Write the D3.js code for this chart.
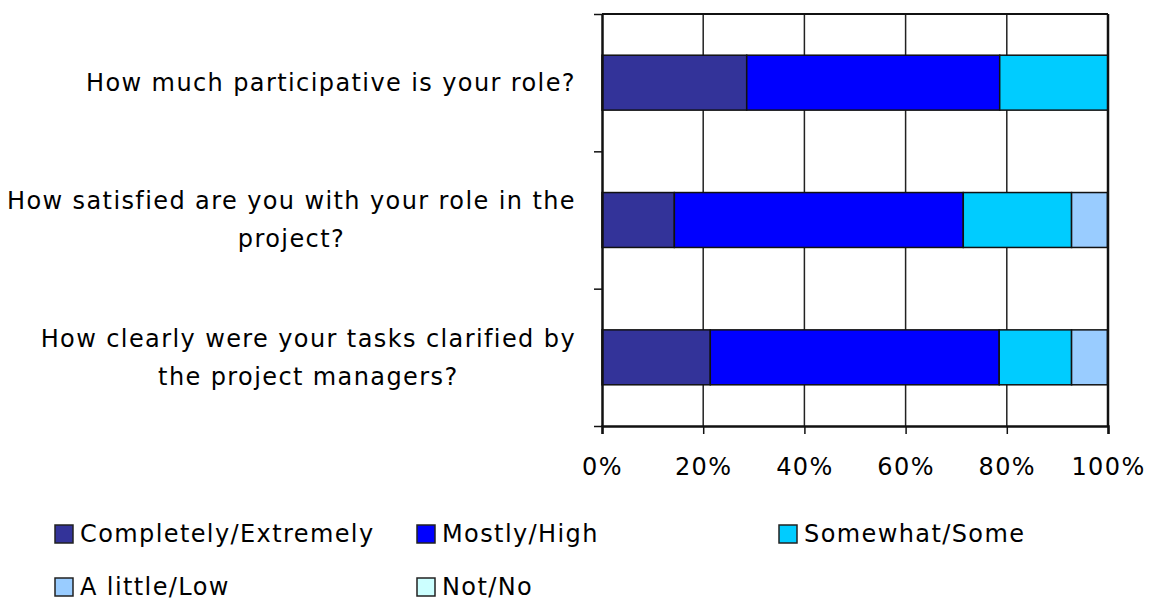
<!DOCTYPE html>
<html>
<head>
<meta charset="utf-8">
<script src="https://cdn.jsdelivr.net/npm/d3@7"></script>
<style>
  body { margin: 0; background: #fff; }
  svg text { font-family: "DejaVu Sans", Verdana, sans-serif; fill: #000; letter-spacing: 1.4px; }
</style>
</head>
<body>
<div id="chart"></div>
<script>
const width = 1150;
const height = 600;

// questions, top to bottom
const questions = [
    ["How much participative is your role?"],
    ["How satisfied are you with your role in the", "project?"],
    ["How clearly were your tasks clarified by", "the project managers?"]
];
const series = ["Completely/Extremely", "Mostly/High", "Somewhat/Some", "A little/Low", "Not/No"];
const colors = ["#333399", "#0000ff", "#00ccff", "#99ccff", "#ccffff"];

// percent of answers per question (same order as series)
const completely = [28.6, 14.3, 21.4];
const mostly     = [50.0, 57.1, 57.1];
const somewhat   = [21.4, 21.4, 14.3];
const aLittle    = [0.0, 7.1, 7.1];
const notNo      = [0.0, 0.0, 0.0];

const xTicks = [0, 20, 40, 60, 80, 100];

const margin = { top: 14, left: 602, right: 42, bottom: 174 };
const plotW = width - margin.left - margin.right;
const plotH = height - margin.top - margin.bottom;
const fontSize = "24px";

const svg = d3.select("#chart").append("svg").attr("width", width).attr("height", height);
const g = svg.append("g").attr("transform", `translate(${margin.left},${margin.top})`);

const rows = questions.map((q, i) => ({
    key: i,
    lines: q,
    values: [completely[i], mostly[i], somewhat[i], aLittle[i], notNo[i]]
}));

const x = d3.scaleLinear().domain([0, 100]).range([0, plotW]);
const y = d3.scaleBand().domain(rows.map(r => r.key)).range([0, plotH]).paddingInner(0.6).paddingOuter(0.3);
const yEdges = d3.scaleLinear().domain([0, rows.length]).range([0, plotH]);

// vertical gridlines
g.selectAll("line.grid")
    .data(xTicks.slice(1, -1))
    .enter().append("line")
    .attr("class", "grid")
    .attr("x1", d => x(d)).attr("x2", d => x(d))
    .attr("y1", 0).attr("y2", plotH)
    .attr("stroke", "#222").attr("stroke-width", 1.5);

// stacked bars
const stack = d3.stack().keys(d3.range(series.length)).value((r, k) => r.values[k]);
const layers = stack(rows);

g.selectAll("g.layer")
    .data(layers)
    .enter().append("g")
    .attr("class", "layer")
    .attr("fill", (d, i) => colors[i])
    .selectAll("rect")
    .data(d => d.filter(s => s[1] - s[0] > 0))
    .enter().append("rect")
    .attr("x", d => x(d[0]))
    .attr("width", d => x(d[1]) - x(d[0]))
    .attr("y", d => y(d.data.key))
    .attr("height", y.bandwidth())
    .attr("stroke", "#111").attr("stroke-width", 1.5);

// frame: top and right
g.append("line").attr("x1", 0).attr("x2", plotW).attr("y1", 0).attr("y2", 0)
    .attr("stroke", "#111").attr("stroke-width", 2);
g.append("line").attr("x1", plotW).attr("x2", plotW).attr("y1", 0).attr("y2", plotH)
    .attr("stroke", "#111").attr("stroke-width", 2.5);

// bottom axis
const xAxis = g.append("g")
    .attr("transform", `translate(0,${plotH})`)
    .call(d3.axisBottom(x).tickValues(xTicks).tickFormat(d => d + "%").tickSize(8).tickPadding(24));
xAxis.select(".domain").attr("stroke", "#111").attr("stroke-width", 2.5);
xAxis.selectAll(".tick line").attr("stroke", "#111").attr("stroke-width", 1.5);
xAxis.selectAll(".tick text").style("font-size", fontSize).attr("fill", "#000");

// left axis with ticks at band edges
const yAxis = g.append("g")
    .call(d3.axisLeft(yEdges).tickValues(d3.range(rows.length + 1)).tickFormat("").tickSize(8).tickSizeOuter(0));
yAxis.select(".domain").attr("stroke", "#111").attr("stroke-width", 2.5);
yAxis.selectAll(".tick line").attr("stroke", "#111").attr("stroke-width", 1.5);

// category labels (centred block, right side near axis)
const labelRight = -26;
const lineH = 38;
rows.forEach(r => {
    const t = g.append("text")
        .attr("text-anchor", "middle")
        .style("font-size", fontSize);
    const spans = r.lines.map((ln, j) => t.append("tspan").text(ln));
    const widest = d3.max(spans, s => s.node().getComputedTextLength());
    const cx = labelRight - widest / 2;
    const cy = y(r.key) + y.bandwidth() / 2;
    spans.forEach((s, j) => {
        s.attr("x", cx)
         .attr("y", cy + (j - (r.lines.length - 1) / 2) * lineH)
         .attr("dy", "0.35em");
    });
});

// legend
const legendCols = [55, 417, 779];
const legendRows = [534, 587];
const legend = svg.append("g");
series.forEach((s, i) => {
    const lx = legendCols[i % 3];
    const ly = legendRows[Math.floor(i / 3)];
    legend.append("rect")
        .attr("x", lx).attr("y", ly - 9)
        .attr("width", 18).attr("height", 18)
        .attr("fill", colors[i])
        .attr("stroke", "#222").attr("stroke-width", 1.5);
    legend.append("text")
        .attr("x", lx + 25).attr("y", ly)
        .attr("dy", "0.35em")
        .style("font-size", fontSize)
        .text(s);
});
</script>
</body>
</html>
